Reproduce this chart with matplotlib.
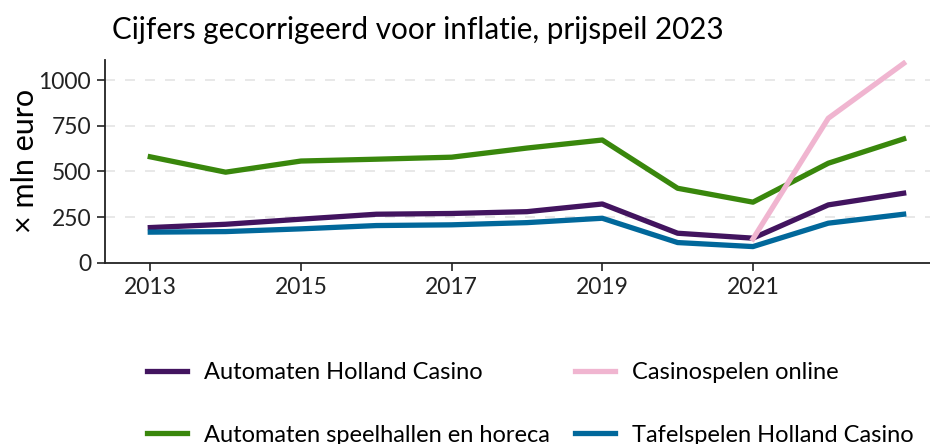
import matplotlib
matplotlib.use("Agg")
import matplotlib.pyplot as plt

plt.rcParams['font.family'] = ['Lato', 'DejaVu Sans']

years = [2013, 2014, 2015, 2016, 2017, 2018, 2019, 2020, 2021, 2022, 2023]
automaten_hc = [193, 211, 239, 266, 270, 280, 322, 162, 135, 317, 381]
automaten_sh = [580, 496, 557, 567, 578, 628, 672, 408, 332, 545, 678]
online_years = [2021, 2022, 2023]
online = [131, 791, 1091]
tafelspelen_hc = [168, 171, 186, 204, 208, 220, 244, 111, 89, 217, 266]

labels = ['Automaten Holland Casino', 'Automaten speelhallen en horeca',
          'Casinospelen online', 'Tafelspelen Holland Casino']
colors = ['#42145f', '#39870c', '#f0b5d0', '#01689b']

fig = plt.figure(figsize=(9.3, 4.44), dpi=100)
ax = fig.add_axes([0.113, 0.408, 0.887, 0.457])

lw = 3.8
ax.plot(years, automaten_hc, color=colors[0], lw=lw, label=labels[0])
ax.plot(years, automaten_sh, color=colors[1], lw=lw, label=labels[1])
ax.plot(online_years, online, color=colors[2], lw=lw, label=labels[2])
ax.plot(years, tafelspelen_hc, color=colors[3], lw=lw, label=labels[3])

ax.set_xlim(2012.4, 2023.35)
ax.set_ylim(0, 1110)
ax.set_xticks([2013, 2015, 2017, 2019, 2021])
ax.set_yticks([0, 250, 500, 750, 1000])
ax.tick_params(labelsize=16.5, length=6, width=1.2, colors='#222222', pad=4)
for y in [250, 500, 750, 1000]:
    ax.axhline(y, color='#e4e4e4', lw=1.2, ls=(0, (6, 6)), zorder=0)

for s in ['top', 'right']:
    ax.spines[s].set_visible(False)
for s in ['left', 'bottom']:
    ax.spines[s].set_linewidth(1.3)
    ax.spines[s].set_color('#222222')

ax.set_ylabel('\u00d7 mln euro', fontsize=22)
ax.yaxis.set_label_coords(-0.08, 0.5)
fig.text(0.12, 0.932, 'Cijfers gecorrigeerd voor inflatie, prijspeil 2023',
         fontsize=21.3, va='center', ha='left')

fig.legend(loc='upper left', bbox_to_anchor=(0.148, 0.205), ncol=2,
           frameon=False, fontsize=17, handlelength=1.7, handletextpad=0.72,
           labelspacing=1.75, columnspacing=1.05, borderaxespad=0)

fig.savefig('out.png', dpi=100)
